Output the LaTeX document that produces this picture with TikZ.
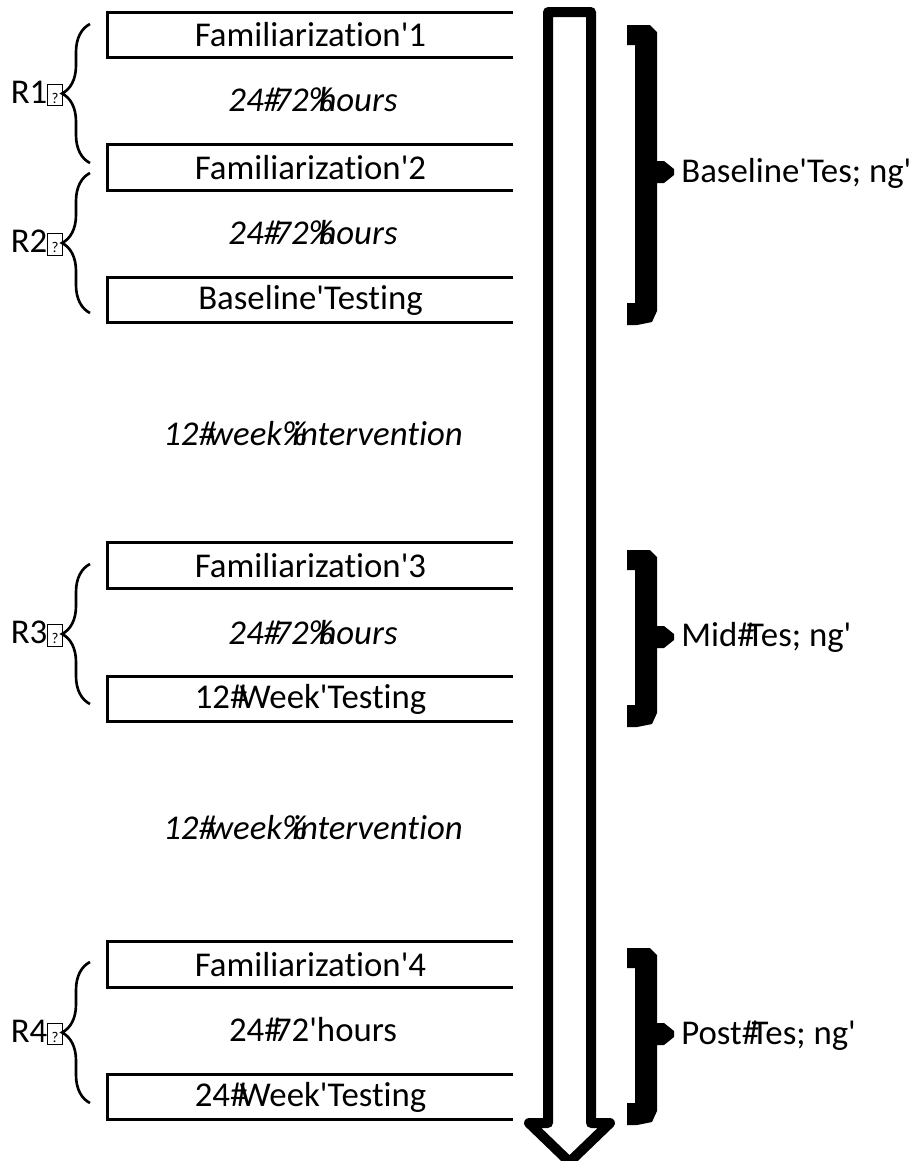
\documentclass[tikz,border=0pt]{standalone}
\usepackage{fontspec}
\setmainfont{Carlito}[Ligatures={TeXOff,CommonOff}]
\usetikzlibrary{decorations.pathreplacing}

% glyph that sits narrower than it is, so the next letter runs into it
\newcommand{\olap}[1]{\makebox[0.28em][l]{#1}}
% little boxed question mark after the round labels
\newcommand{\qbox}{{\setlength{\fboxsep}{0pt}\setlength{\fboxrule}{0.6pt}\fbox{\makebox[7.5pt]{\rule[-1pt]{0pt}{11.5pt}\fontsize{8.5}{8.5}\selectfont ?}}}}

\tikzset{
  stagebox/.style={minimum width=8.1cm,minimum height=0.9cm,inner sep=0pt},
  boxedge/.style={line width=1.6pt},
  gaptext/.style={font=\fontsize{19.8}{23}\selectfont\itshape},
  roundbrace/.style={decorate,decoration={brace,amplitude=0.56cm},line width=1.5pt},
  phasebrace/.style={fill=black},
}

\begin{document}
\begin{tikzpicture}[x=0.02cm,y=-0.02cm,font=\fontsize{19.8}{23}\selectfont]
\clip (0,0) rectangle (916,1161);

% stages
\node[stagebox] (fam1) at (310.5,35) {Familiarization'1};
\node[gaptext] (gap1) at (313,100) {24\olap{\#}72\olap{\%}hours};
\node[stagebox] (fam2) at (310.5,167.5) {Familiarization'2};
\node[gaptext] (gap2) at (313,233) {24\olap{\#}72\olap{\%}hours};
\node[stagebox] (base) at (310.5,300) {Baseline'Testing};
\node[gaptext] (int1) at (313,434) {12\olap{\#}week\olap{\%}intervention};
\node[stagebox] (fam3) at (310.5,565.5) {Familiarization'3};
\node[gaptext] (gap3) at (313,633) {24\olap{\#}72\olap{\%}hours};
\node[stagebox] (wk12) at (310.5,699) {12\olap{\#}Week'Testing};
\node[gaptext] (int2) at (313,828) {12\olap{\#}week\olap{\%}intervention};
\node[stagebox] (fam4) at (310.5,964.5) {Familiarization'4};
\node (gap4) at (313,1030) {24\olap{\#}72'hours};
\node[stagebox] (wk24) at (310.5,1097) {24\olap{\#}Week'Testing};

% boxes are open on the right
\foreach \b in {fam1,fam2,base,fam3,wk12,fam4,wk24}
  \draw[boxedge] (\b.north east) -| (\b.south west) -- (\b.south east);

% rounds
\draw[roundbrace] (90,163) -- (90,24);
\draw[roundbrace] (90,313) -- (90,173);
\draw[roundbrace] (90,704) -- (90,564);
\draw[roundbrace] (90,1103) -- (90,962);
\node[anchor=east,inner sep=0pt] (r1) at (63,93.5) {R1\qbox};
\node[anchor=east,inner sep=0pt] (r2) at (63,243) {R2\qbox};
\node[anchor=east,inner sep=0pt] (r3) at (63,634) {R3\qbox};
\node[anchor=east,inner sep=0pt] (r4) at (63,1032.5) {R4\qbox};

% time arrow
\draw[line width=0.2cm,line join=round,fill=white]
  (548,12) -- (591,12) -- (591,1123) -- (610,1123) -- (569.5,1162)
  -- (529,1123) -- (548,1123) -- cycle;

% testing phases: heavy square brackets with a notch
\foreach \t/\m/\b in {23/172/325, 548/637/727, 946/1034/1125}
  \fill[phasebrace] (627,\t+2) -- (650,\t+2) -- (657,\t+9) -- (657,\m-11)
    -- (664,\m-11) -- (674,\m-3) -- (674,\m+3) -- (664,\m+11) -- (657,\m+11)
    -- (657,\b-14) -- (652,\b-3) -- (637,\b) -- (627,\b) -- (627,\b-22)
    -- (635,\b-22) -- (635,\t+22) -- (627,\t+22) -- cycle;
\node[anchor=west,inner sep=0pt] (basetest) at (681,173) {Baseline'Tes; ng'};
\node[anchor=west,inner sep=0pt] (midtest) at (681,637.5) {Mid\olap{\#}Tes; ng'};
\node[anchor=west,inner sep=0pt] (posttest) at (681,1036) {Post\olap{\#}Tes; ng'};
\end{tikzpicture}
\end{document}
